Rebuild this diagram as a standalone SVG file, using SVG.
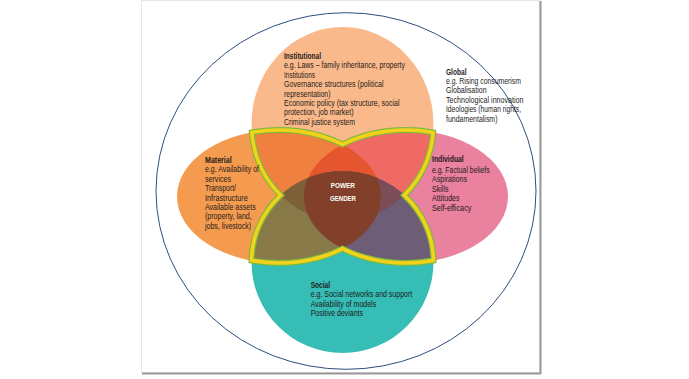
<svg xmlns="http://www.w3.org/2000/svg" width="689" height="379" viewBox="0 0 689 379">
<style>
  text { font-family: "Liberation Sans", Arial, sans-serif; font-size: 8.6px; fill: #1e1b1c; }
  .b { font-weight: bold; }
  .w { fill: #ffffff; font-weight: bold; font-size: 8px; }
  .yel { fill: none; stroke-linejoin: miter; }
</style>
<defs>
  <clipPath id="cT"><ellipse cx="342.5" cy="124" rx="91" ry="97"/></clipPath>
  <clipPath id="cB"><ellipse cx="342.5" cy="262" rx="91" ry="91"/></clipPath>
  <clipPath id="cL"><ellipse cx="279" cy="196.5" rx="102" ry="66.5"/></clipPath>
  <clipPath id="cR"><ellipse cx="406" cy="196.5" rx="102" ry="66.5"/></clipPath>
</defs>
<rect width="689" height="379" fill="#ffffff"/>
<g id="panel">
  <rect x="141.5" y="0.5" width="398" height="372" fill="#ffffff" stroke="#e6e6e6" stroke-width="1"/>
  <line x1="540.5" y1="1" x2="540.5" y2="374" stroke="#9a9a9a" stroke-width="2"/>
  <line x1="142" y1="373.5" x2="541" y2="373.5" stroke="#9a9a9a" stroke-width="2"/>
</g>
<g id="global">
  <ellipse cx="346" cy="191" rx="190" ry="178.3" fill="none" stroke="#2c4f7c" stroke-width="1"/>
</g>
<g id="institutional"><ellipse cx="342.5" cy="124" rx="91" ry="97" fill="#fab98a"/></g>
<g id="social"><ellipse cx="342.5" cy="262" rx="91" ry="91" fill="#36bdb5"/></g>
<g id="material"><ellipse cx="279" cy="196.5" rx="102" ry="66.5" fill="#f59b50"/></g>
<g id="individual"><ellipse cx="406" cy="196.5" rx="102" ry="66.5" fill="#ea819f"/></g>
<g id="overlaps">
  <g clip-path="url(#cT)"><ellipse cx="279" cy="196.5" rx="102" ry="66.5" fill="#ef8040"/></g>
  <g clip-path="url(#cT)"><ellipse cx="406" cy="196.5" rx="102" ry="66.5" fill="#ef6a64"/></g>
  <g clip-path="url(#cB)"><ellipse cx="279" cy="196.5" rx="102" ry="66.5" fill="#887a48"/></g>
  <g clip-path="url(#cB)"><ellipse cx="406" cy="196.5" rx="102" ry="66.5" fill="#6d5d77"/></g>
  <g clip-path="url(#cT)"><g clip-path="url(#cL)"><ellipse cx="406" cy="196.5" rx="102" ry="66.5" fill="#e5562f"/></g></g>
  <g clip-path="url(#cT)"><g clip-path="url(#cB)"><ellipse cx="279" cy="196.5" rx="102" ry="66.5" fill="#7d6038"/></g></g>
  <g clip-path="url(#cT)"><g clip-path="url(#cB)"><ellipse cx="406" cy="196.5" rx="102" ry="66.5" fill="#7a4d58"/></g></g>
  <g clip-path="url(#cL)"><g clip-path="url(#cR)"><ellipse cx="342.5" cy="262" rx="91" ry="91" fill="#82402a"/></g></g>
</g>
<g id="power-gender">
  <path class="yel" stroke="#7dba3c" stroke-width="6" d="M251.85,132.4 A102,66.5 0 0 1 342.5,144.46 A102,66.5 0 0 1 433.15,132.4 A91,97 0 0 1 404.3,195.2 A91,91 0 0 1 433.5,260.5 A102,66.5 0 0 1 342.5,248.54 A102,66.5 0 0 1 251.5,260.5 A91,91 0 0 1 280.7,195.2 A91,97 0 0 1 251.85,132.4 Z"/>
  <path class="yel" stroke="#f4d21c" stroke-width="3.6" d="M251.85,132.4 A102,66.5 0 0 1 342.5,144.46 A102,66.5 0 0 1 433.15,132.4 A91,97 0 0 1 404.3,195.2 A91,91 0 0 1 433.5,260.5 A102,66.5 0 0 1 342.5,248.54 A102,66.5 0 0 1 251.5,260.5 A91,91 0 0 1 280.7,195.2 A91,97 0 0 1 251.85,132.4 Z"/>
  <text class="w" x="330.7" y="188.2" textLength="24.3" lengthAdjust="spacingAndGlyphs">POWER</text>
  <text class="w" x="330" y="200.8" textLength="26" lengthAdjust="spacingAndGlyphs">GENDER</text>
</g>
<g id="institutional-text">
  <text class="b" x="284" y="58.8" textLength="37" lengthAdjust="spacingAndGlyphs">Institutional</text>
  <text x="284" y="68.2" textLength="121" lengthAdjust="spacingAndGlyphs">e.g. Laws – family inheritance, property</text>
  <text x="284" y="77.6" textLength="31" lengthAdjust="spacingAndGlyphs">Institutions</text>
  <text x="284" y="87" textLength="99.5" lengthAdjust="spacingAndGlyphs">Governance structures (political</text>
  <text x="284" y="96.5" textLength="46.5" lengthAdjust="spacingAndGlyphs">representation)</text>
  <text x="284" y="106" textLength="115.5" lengthAdjust="spacingAndGlyphs">Economic policy (tax structure, social</text>
  <text x="284" y="115.4" textLength="69.5" lengthAdjust="spacingAndGlyphs">protection, job market)</text>
  <text x="284" y="124.9" textLength="71" lengthAdjust="spacingAndGlyphs">Criminal justice system</text>
</g>
<g id="global-text">
  <text class="b" x="446" y="74.8" textLength="20.5" lengthAdjust="spacingAndGlyphs">Global</text>
  <text x="446" y="84" textLength="75" lengthAdjust="spacingAndGlyphs">e.g. Rising consumerism</text>
  <text x="446" y="93.3" textLength="40.6" lengthAdjust="spacingAndGlyphs">Globalisation</text>
  <text x="446" y="102.6" textLength="77.5" lengthAdjust="spacingAndGlyphs">Technological innovation</text>
  <text x="446" y="112.2" textLength="75" lengthAdjust="spacingAndGlyphs">Ideologies (human rights,</text>
  <text x="446" y="121.5" textLength="51.5" lengthAdjust="spacingAndGlyphs">fundamentalism)</text>
</g>
<g id="material-text">
  <text class="b" x="205" y="162.5" textLength="26.7" lengthAdjust="spacingAndGlyphs">Material</text>
  <text x="205" y="172.2" textLength="54" lengthAdjust="spacingAndGlyphs">e.g. Availability of</text>
  <text x="205" y="181.5" textLength="26" lengthAdjust="spacingAndGlyphs">services</text>
  <text x="205" y="190.9" textLength="31" lengthAdjust="spacingAndGlyphs">Transport/</text>
  <text x="205" y="200.5" textLength="42.7" lengthAdjust="spacingAndGlyphs">Infrastructure</text>
  <text x="205" y="209.9" textLength="50.7" lengthAdjust="spacingAndGlyphs">Available assets</text>
  <text x="205" y="219.2" textLength="46.7" lengthAdjust="spacingAndGlyphs">(property, land,</text>
  <text x="205" y="228.9" textLength="46" lengthAdjust="spacingAndGlyphs">jobs, livestock)</text>
</g>
<g id="individual-text">
  <text class="b" x="432" y="162.2" textLength="31.7" lengthAdjust="spacingAndGlyphs">Individual</text>
  <text x="432" y="172.5" textLength="57.7" lengthAdjust="spacingAndGlyphs">e.g. Factual beliefs</text>
  <text x="432" y="181.9" textLength="35" lengthAdjust="spacingAndGlyphs">Aspirations</text>
  <text x="432" y="191.5" textLength="16.5" lengthAdjust="spacingAndGlyphs">Skills</text>
  <text x="432" y="200.5" textLength="27.6" lengthAdjust="spacingAndGlyphs">Attitudes</text>
  <text x="432" y="210.5" textLength="39.4" lengthAdjust="spacingAndGlyphs">Self-efficacy</text>
</g>
<g id="social-text">
  <text class="b" x="310.7" y="287.5" textLength="19.4" lengthAdjust="spacingAndGlyphs">Social</text>
  <text x="310.7" y="296.9" textLength="101.5" lengthAdjust="spacingAndGlyphs">e.g. Social networks and support</text>
  <text x="310.7" y="306.5" textLength="65.5" lengthAdjust="spacingAndGlyphs">Availability of models</text>
  <text x="310.7" y="315.5" textLength="52.3" lengthAdjust="spacingAndGlyphs">Positive deviants</text>
</g>
</svg>
